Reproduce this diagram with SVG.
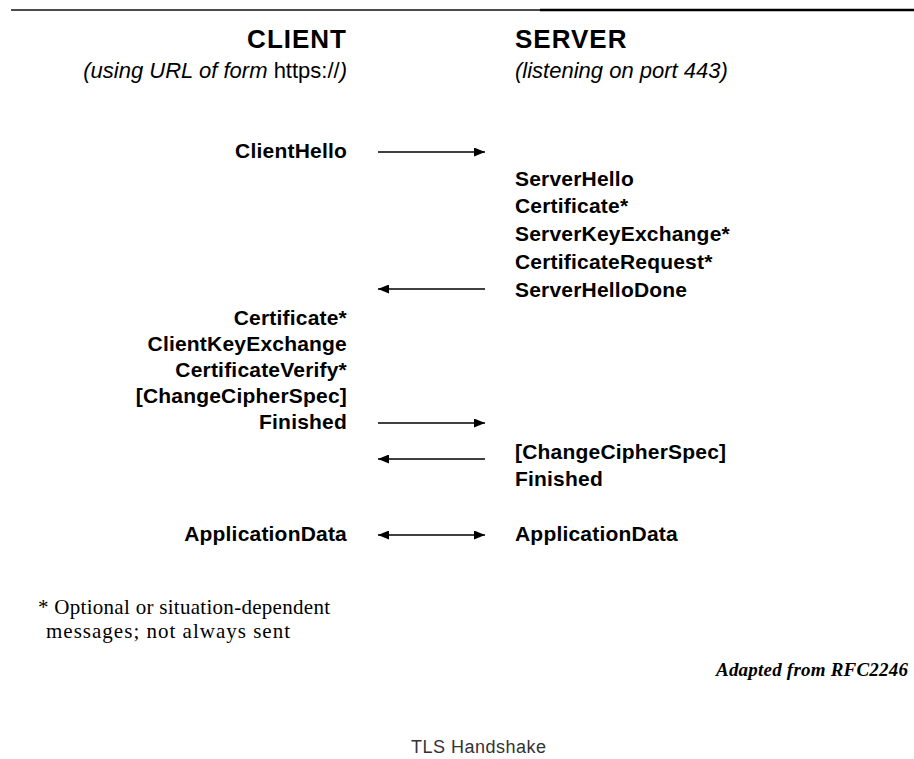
<svg xmlns="http://www.w3.org/2000/svg" width="914" height="759" viewBox="0 0 914 759">
<style>
.h{font-family:"Liberation Sans",Arial,sans-serif;font-weight:bold;font-size:26px;letter-spacing:1px;fill:#000}
.sub{font-family:"Liberation Sans",Arial,sans-serif;font-style:italic;font-size:22px;fill:#000}
.m{font-family:"Liberation Sans",Arial,sans-serif;font-weight:bold;font-size:21px;letter-spacing:0.2px;fill:#000}
.c{text-anchor:end}
.fn{font-family:"Liberation Serif","Times New Roman",serif;font-size:21px;fill:#000}
.ad{font-family:"Liberation Serif","Times New Roman",serif;font-style:italic;font-weight:bold;font-size:19px;fill:#000}
.cap{font-family:"Liberation Sans",Arial,sans-serif;font-size:18px;fill:#333}
.ln{stroke:#000;stroke-width:1.3;fill:none}
</style>
<defs>
<marker id="ah" markerWidth="11" markerHeight="9" refX="11" refY="4.5" orient="auto-start-reverse" markerUnits="userSpaceOnUse">
<path d="M0,0 L11,4.5 L0,9 Z" fill="#000"/>
</marker>
</defs>
<rect width="914" height="759" fill="#fff"/>
<g id="topline">
<line x1="11" y1="10" x2="914" y2="10" stroke="#111" stroke-width="1.5"/>
<line x1="540" y1="10" x2="914" y2="10" stroke="#000" stroke-width="2.5"/>
</g>
<g id="client-header">
<text class="h c" x="347" y="48">CLIENT</text>
<text class="sub c" x="347" y="78">(using URL of form <tspan font-style="normal">https://</tspan>)</text>
</g>
<g id="server-header">
<text class="h" x="515" y="48">SERVER</text>
<text class="sub" x="515" y="78">(listening on port 443)</text>
</g>
<g id="client-hello"><text class="m c" x="347" y="158">ClientHello</text></g>
<g id="server-hello-group">
<text class="m" x="515" y="186">ServerHello</text>
<text class="m" x="515" y="213">Certificate*</text>
<text class="m" x="515" y="241">ServerKeyExchange*</text>
<text class="m" x="515" y="269">CertificateRequest*</text>
<text class="m" x="515" y="297">ServerHelloDone</text>
</g>
<g id="client-key-group">
<text class="m c" x="347" y="325">Certificate*</text>
<text class="m c" x="347" y="351">ClientKeyExchange</text>
<text class="m c" x="347" y="377">CertificateVerify*</text>
<text class="m c" x="347" y="403">[ChangeCipherSpec]</text>
<text class="m c" x="347" y="429">Finished</text>
</g>
<g id="server-finished-group">
<text class="m" x="515" y="459">[ChangeCipherSpec]</text>
<text class="m" x="515" y="486">Finished</text>
</g>
<g id="client-appdata"><text class="m c" x="347" y="541">ApplicationData</text></g>
<g id="server-appdata"><text class="m" x="515" y="541">ApplicationData</text></g>
<g id="connectors">
<line class="ln" x1="378" y1="152" x2="485" y2="152" marker-end="url(#ah)"/>
<line class="ln" x1="485" y1="289" x2="378" y2="289" marker-end="url(#ah)"/>
<line class="ln" x1="378" y1="423" x2="485" y2="423" marker-end="url(#ah)"/>
<line class="ln" x1="485" y1="459" x2="378" y2="459" marker-end="url(#ah)"/>
<line class="ln" x1="378" y1="535" x2="485" y2="535" marker-start="url(#ah)" marker-end="url(#ah)"/>
</g>
<g id="footnote">
<text class="fn" x="38" y="614" textLength="292" lengthAdjust="spacing">* Optional or situation-dependent</text>
<text class="fn" x="46" y="638" textLength="244" lengthAdjust="spacing">messages; not always sent</text>
</g>
<g id="source"><text class="ad" x="716" y="676" textLength="192" lengthAdjust="spacing">Adapted from RFC2246</text></g>
<g id="caption"><text class="cap" x="411" y="753" textLength="135" lengthAdjust="spacing">TLS Handshake</text></g>
</svg>
